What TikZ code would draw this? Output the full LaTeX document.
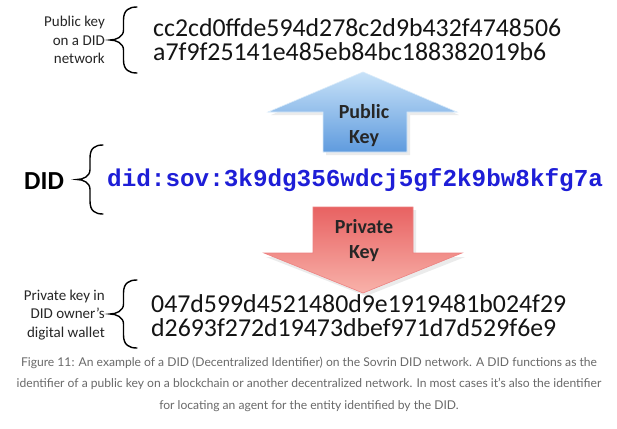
\documentclass[tikz,border=0pt]{standalone}
\usepackage{fontspec}
\setmainfont{Carlito}
\newfontfamily\monofnt{Liberation Mono}
\newfontfamily\capfnt{Lato}
\definecolor{didblue}{RGB}{30,30,215}
\definecolor{captgray}{RGB}{105,105,105}
\definecolor{hexcol}{RGB}{20,20,20}
\definecolor{pubtop}{RGB}{200,226,248}
\definecolor{pubbot}{RGB}{95,155,222}
\definecolor{privtop}{RGB}{232,98,98}
\definecolor{privbot}{RGB}{248,178,170}
\newcommand{\mybrace}[5]{% name, xright, xleft, ytop, ybottom
  \path (#2,#4) coordinate (#1top) (#3,{(#4+#5)/2}) coordinate (#1tip) (#2,#5) coordinate (#1bot);
  \draw[bracestyle]
    (#1top) .. controls ({#2-8},#4) and ({(#2+#3)/2},{#4+3}) .. ({(#2+#3)/2},{#4+13})
    -- ({(#2+#3)/2},{(#4+#5)/2-10})
    .. controls ({(#2+#3)/2},{(#4+#5)/2-3}) and ({#3+6},{(#4+#5)/2}) .. (#1tip)
    .. controls ({#3+6},{(#4+#5)/2}) and ({(#2+#3)/2},{(#4+#5)/2+3}) .. ({(#2+#3)/2},{(#4+#5)/2+10})
    -- ({(#2+#3)/2},{#5-13})
    .. controls ({(#2+#3)/2},{#5-3}) and ({#2-8},#5) .. (#1bot);
}
\begin{document}
\begin{tikzpicture}[x=1pt,y=-1pt,
  bracestyle/.style={line width=1.4pt,line cap=round,black},
  smalllabel/.style={font=\fontsize{15}{18.5}\selectfont,align=right,anchor=east,inner sep=0pt,text=black!85},
  hexline/.style={font=\fontsize{25.8}{24}\selectfont,align=left,anchor=west,inner sep=0pt,text=hexcol},
  arrowtext/.style={font=\fontsize{20}{25}\selectfont\bfseries,align=center,inner sep=0pt,text=black!85},
  captline/.style={font=\capfnt\fontsize{12.1}{21.5}\selectfont,align=center,inner sep=0pt,text=captgray}]
\useasboundingbox (0,0) rectangle (617,428);
\fill[white] (0,0) rectangle (617,428);

% top block
\node[smalllabel] (publabel) at (105,40) {Public key\\on a DID\\network};
\mybrace{pb}{137}{110}{7}{73}
\node[hexline] (pubhex) at (153,40) {cc2cd0ffde594d278c2d9b432f4748506\\a7f9f25141e485eb84bc188382019b6};

% public key arrow
\fill[black,opacity=0.08] (365,75) -- (459,115) -- (410,115) -- (410,155) -- (326,155) -- (326,115) -- (271,115) -- cycle;
\shade[top color=pubtop,bottom color=pubbot,draw=pubtop!70!white,line width=0.6pt]
  (363,72) coordinate (puptip) -- (457,112) -- (407,112) -- (407,152) -- (323,152) -- (323,112) -- (268,112) -- cycle;
\node[arrowtext] (pubtxt) at (364,126) {Public\\Key};

% DID
\node[font=\fontsize{26}{26}\selectfont\bfseries,anchor=west,inner sep=0pt] (didlabel) at (24,181) {DID};
\mybrace{db}{103}{77}{145}{214}
\node[font=\monofnt\bfseries\fontsize{24.3}{24}\selectfont,anchor=west,inner sep=0pt,text=didblue] (didtext) at (107,180) {did:sov:3k9dg356wdcj5gf2k9bw8kfg7a};

% private key arrow
\fill[black,opacity=0.08] (366,296) -- (465,257) -- (416,257) -- (416,210) -- (316,210) -- (316,257) -- (266,257) -- cycle;
\shade[top color=privtop,bottom color=privbot,draw=privtop!80!white,line width=0.6pt]
  (313,207) -- (413,207) -- (413,253) -- (462,253) -- (363,293) coordinate (pdowntip) -- (264,253) -- (313,253) -- cycle;
\node[arrowtext] (privtxt) at (364,241) {Private\\Key};

% bottom block
\node[smalllabel] (privlabel) at (105,315) {Private key in\\DID owner’s\\digital wallet};
\mybrace{vb}{137}{110}{280}{348}
\node[hexline] (privhex) at (151,316) {047d599d4521480d9e1919481b024f29\\d2693f272d19473dbef971d7d529f6e9};

% caption
\node[captline] (caption) at (309,384) {Figure 11: An example of a DID (Decentralized Identifier) on the Sovrin DID network. A DID functions as the\\identifier of a public key on a blockchain or another decentralized network. In most cases it’s also the identifier\\for locating an agent for the entity identified by the DID.};
\end{tikzpicture}
\end{document}
